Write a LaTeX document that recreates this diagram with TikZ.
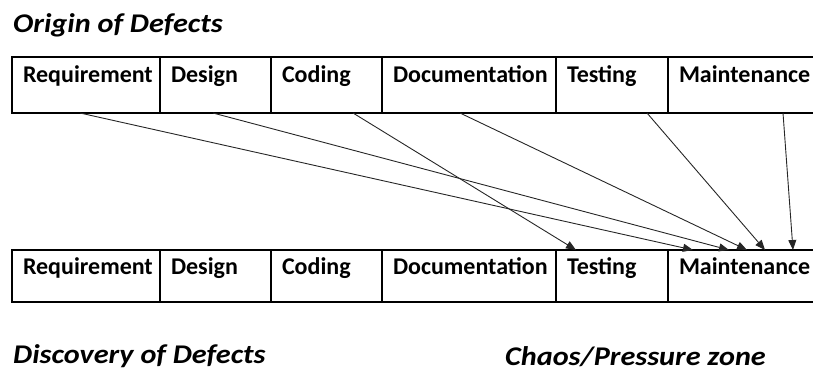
\documentclass[tikz,border=0pt]{standalone}
\usepackage{fontspec}
\setmainfont{Carlito}
\newfontfamily\headfam[FakeStretch=1.12]{Carlito}
\usetikzlibrary{positioning,arrows.meta}

\newcommand{\cellfont}{\bfseries\fontsize{24}{28}\selectfont}
\newcommand{\headfont}{\headfam\bfseries\itshape\fontsize{27}{31}\selectfont}

\begin{document}
\begin{tikzpicture}[x=1pt,y=-1pt,
  cell/.style={draw, line width=1.2pt, anchor=north west, inner xsep=11pt, inner ysep=0pt,
    outer sep=0pt, align=left, font=\cellfont},
  upper/.style={cell, text height=26pt, text depth=30pt},
  lower/.style={cell, text height=24pt, text depth=28pt},
  heading/.style={anchor=base west, inner sep=0pt, font=\headfont},
  flow/.style={-{Triangle[length=10pt,width=8pt]}, line width=0.9pt, draw=black!85}]
\clip (0,0) rectangle (813,374);

\node[heading] (origin) at (13,33) {Origin of Defects};
\node[heading] (discovery) at (13,363) {Discovery of Defects};
\node[heading] (chaos) at (505,365) {Chaos/Pressure zone};

\node[upper, text width=126pt] (oreq) at (12,57) {Requirement};
\node[upper, text width=89pt, right=0pt of oreq] (odes) {Design};
\node[upper, text width=89pt, right=0pt of odes] (ocod) {Coding};
\node[upper, text width=152pt, right=0pt of ocod] (odoc) {Documentation};
\node[upper, text width=90pt, right=0pt of odoc] (otst) {Testing};
\node[upper, text width=150pt, right=0pt of otst] (omnt) {Maintenance};

\node[lower, text width=126pt] (dreq) at (12,250) {Requirement};
\node[lower, text width=89pt, right=0pt of dreq] (ddes) {Design};
\node[lower, text width=89pt, right=0pt of ddes] (dcod) {Coding};
\node[lower, text width=152pt, right=0pt of dcod] (ddoc) {Documentation};
\node[lower, text width=90pt, right=0pt of ddoc] (dtst) {Testing};
\node[lower, text width=150pt, right=0pt of dtst] (dmnt) {Maintenance};

\draw[flow] ([xshift=68pt]oreq.south west) -- ([xshift=25pt]dmnt.north west);
\draw[flow] ([xshift=53pt]odes.south west) -- ([xshift=61pt]dmnt.north west);
\draw[flow] ([xshift=82pt]ocod.south west) -- ([xshift=20pt]dtst.north west);
\draw[flow] ([xshift=78pt]odoc.south west) -- ([xshift=79pt]dmnt.north west);
\draw[flow] ([xshift=91pt]otst.south west) -- ([xshift=97pt]dmnt.north west);
\draw[flow] ([xshift=115pt]omnt.south west) -- ([xshift=125pt]dmnt.north west);
\end{tikzpicture}
\end{document}
